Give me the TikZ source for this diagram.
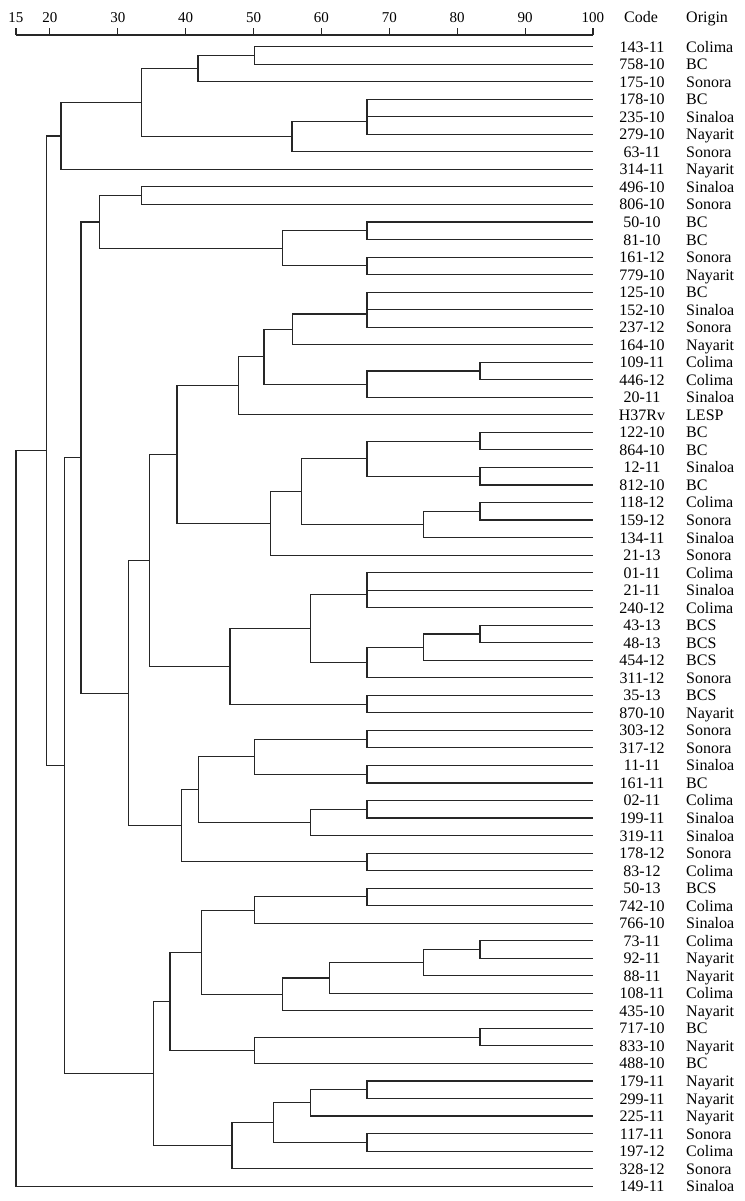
\documentclass[tikz,border=0pt]{standalone}
\usepackage{fontspec}
\setmainfont{Liberation Serif}
\usetikzlibrary{calc}
\newcommand\dmerge[4]{%
  \coordinate (#1-m) at ($(#3)!.5!(#4)$);
  \coordinate (#1) at (#2,0 |- #1-m);
  \draw[branch] (#1) |- (#3) (#1) |- (#4);
}
\begin{document}
\begin{tikzpicture}[x=1pt,y=-1pt,
  branch/.style={line width=1.1pt,draw=black!85},
  axisline/.style={line width=1.1pt,draw=black!85},
  codetxt/.style={anchor=base,inner sep=0pt,font=\fontsize{16}{18}\selectfont},
  origtxt/.style={anchor=base west,inner sep=0pt,font=\fontsize{16}{18}\selectfont},
  ticktxt/.style={anchor=base,inner sep=0pt,font=\fontsize{15}{17}\selectfont}]
\useasboundingbox (0,0) rectangle (744,1201);
% axis
\coordinate (ax0) at (16,35);
\coordinate (ax1) at (593,35);
\draw[axisline] (ax0) -- (ax1);
\foreach \v in {15,20,30,40,50,60,70,80,90,100}{
  \coordinate (tk\v) at ({16+(\v-15)*6.788},35);
  \coordinate (tt\v) at ({16+(\v-15)*6.788},28);
  \draw[axisline] (tk\v) -- (tt\v);
  \node[ticktxt] (tl\v) at ({16+(\v-15)*6.788},23) {\v};
}
\node[codetxt] (hcode) at (641,23) {Code};
\node[origtxt] (horig) at (686,23) {Origin};
% leaves
\foreach \c/\o [count=\i from 0] in {143-11/Colima,758-10/BC,175-10/Sonora,178-10/BC,235-10/Sinaloa,279-10/Nayarit,63-11/Sonora,314-11/Nayarit,496-10/Sinaloa,806-10/Sonora,50-10/BC,81-10/BC,161-12/Sonora,779-10/Nayarit,125-10/BC,152-10/Sinaloa,237-12/Sonora,164-10/Nayarit,109-11/Colima,446-12/Colima,20-11/Sinaloa,H37Rv/LESP,122-10/BC,864-10/BC,12-11/Sinaloa,812-10/BC,118-12/Colima,159-12/Sonora,134-11/Sinaloa,21-13/Sonora,01-11/Colima,21-11/Sinaloa,240-12/Colima,43-13/BCS,48-13/BCS,454-12/BCS,311-12/Sonora,35-13/BCS,870-10/Nayarit,303-12/Sonora,317-12/Sonora,11-11/Sinaloa,161-11/BC,02-11/Colima,199-11/Sinaloa,319-11/Sinaloa,178-12/Sonora,83-12/Colima,50-13/BCS,742-10/Colima,766-10/Sinaloa,73-11/Colima,92-11/Nayarit,88-11/Nayarit,108-11/Colima,435-10/Nayarit,717-10/BC,833-10/Nayarit,488-10/BC,179-11/Nayarit,299-11/Nayarit,225-11/Nayarit,117-11/Sonora,197-12/Colima,328-12/Sonora,149-11/Sinaloa}{
  \coordinate (L\i) at (593,{46.7+17.53*\i});
  \node[codetxt] (c\i) at (642,{46.7+17.53*\i+5.5}) {\c};
  \node[origtxt] (o\i) at (686,{46.7+17.53*\i+5.5}) {\o};
}
% top group
\dmerge{a1}{254.3}{L0}{L1}
\dmerge{a2}{198}{a1}{L2}
\dmerge{a3}{367}{L3}{L4}
\dmerge{a4}{367}{a3}{L5}
\dmerge{a5}{292}{a4}{L6}
\dmerge{a6}{141.7}{a2}{a5}
\dmerge{a7}{61}{a6}{L7}
% second group
\dmerge{b1}{141.7}{L8}{L9}
\dmerge{b2}{367}{L10}{L11}
\dmerge{b3}{367}{L12}{L13}
\dmerge{b4}{282.7}{b2}{b3}
\dmerge{b5}{99.7}{b1}{b4}
% third group
\dmerge{c1}{367}{L14}{L15}
\dmerge{c2}{367}{c1}{L16}
\dmerge{c3}{292.3}{c2}{L17}
\dmerge{c4}{480}{L18}{L19}
\dmerge{c5}{367}{c4}{L20}
\dmerge{c6}{264}{c3}{c5}
\dmerge{c7}{238.7}{c6}{L21}
\dmerge{c8}{480}{L22}{L23}
\dmerge{c9}{480}{L24}{L25}
\dmerge{c10}{367}{c8}{c9}
\dmerge{c11}{480}{L26}{L27}
\dmerge{c12}{423.7}{c11}{L28}
\dmerge{c13}{301.7}{c10}{c12}
\dmerge{c14}{270.3}{c13}{L29}
\dmerge{c15}{177}{c7}{c14}
% fourth group
\dmerge{d1}{367}{L30}{L31}
\dmerge{d2}{367}{d1}{L32}
\dmerge{d3}{480}{L33}{L34}
\dmerge{d4}{423.7}{d3}{L35}
\dmerge{d5}{367}{d4}{L36}
\dmerge{d6}{310.7}{d2}{d5}
\dmerge{d7}{367}{L37}{L38}
\dmerge{d8}{230}{d6}{d7}
\dmerge{d9}{149.7}{c15}{d8}
% fifth group
\dmerge{e1}{367}{L39}{L40}
\dmerge{e2}{367}{L41}{L42}
\dmerge{e3}{254.3}{e1}{e2}
\dmerge{e4}{367}{L43}{L44}
\dmerge{e5}{310.7}{e4}{L45}
\dmerge{e6}{198.3}{e3}{e5}
\dmerge{e7}{367}{L46}{L47}
\dmerge{e8}{181.7}{e6}{e7}
\dmerge{e9}{128.3}{d9}{e8}
\dmerge{e10}{81}{b5}{e9}
% sixth group
\dmerge{f1}{367}{L48}{L49}
\dmerge{f2}{254.3}{f1}{L50}
\dmerge{f3}{480}{L51}{L52}
\dmerge{f4}{423.7}{f3}{L53}
\dmerge{f5}{329.3}{f4}{L54}
\dmerge{f6}{282.7}{f5}{L55}
\dmerge{f7}{201.7}{f2}{f6}
\dmerge{f8}{480}{L56}{L57}
\dmerge{f9}{254.3}{f8}{L58}
\dmerge{f10}{170}{f7}{f9}
\dmerge{f11}{367}{L59}{L60}
\dmerge{f12}{310.7}{f11}{L61}
\dmerge{f13}{367}{L62}{L63}
\dmerge{f14}{273.7}{f12}{f13}
\dmerge{f15}{232}{f14}{L64}
\dmerge{f16}{153.7}{f10}{f15}
\dmerge{f17}{64.7}{e10}{f16}
\dmerge{g1}{46.3}{a7}{f17}
\dmerge{g2}{16}{g1}{L65}
\end{tikzpicture}
\end{document}
